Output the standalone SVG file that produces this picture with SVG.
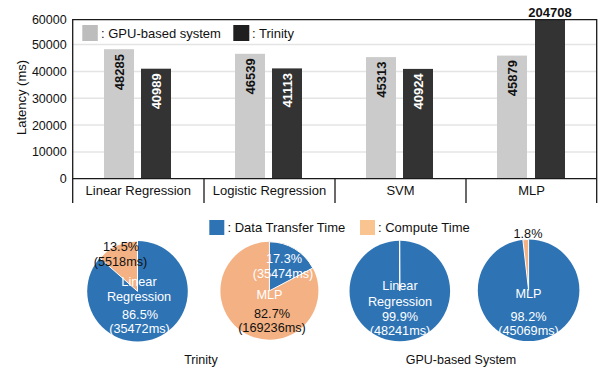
<svg xmlns="http://www.w3.org/2000/svg" width="602" height="370" viewBox="0 0 602 370">
  <defs>
    <style>
      text { font-family: "Liberation Sans", Arial, Helvetica, sans-serif; fill: #111; }
      .tick { font-size: 12.5px; text-anchor: end; }
      .cat { font-size: 13px; text-anchor: middle; }
      .leg { font-size: 13px; }
      .val { font-size: 13px; font-weight: bold; text-anchor: end; }
      .val-light { fill: #fff; }
      .pl { font-size: 12.7px; text-anchor: middle; }
      .pl-w { fill: #fff; }
      .title { font-size: 12.5px; text-anchor: middle; }
      .grid { stroke: #e4e4e4; stroke-width: 1.5; }
      .frame { stroke: #1a1a1a; stroke-width: 1.3; fill: none; }
      .gpu { fill: #cbcbcb; }
      .trin { fill: #333333; }
      .blue { fill: #2e74b5; }
      .orange { fill: #f4b183; }
      .slice { stroke: #fff; stroke-width: 1; }
    </style>
  </defs>
  <rect width="602" height="370" fill="#fff"/>

  <!-- bar chart: grid and axes -->
  <g id="bar-grid">
    <line class="grid" x1="72.7" y1="44.6" x2="596.7" y2="44.6"/>
    <line class="grid" x1="72.7" y1="71.4" x2="596.7" y2="71.4"/>
    <line class="grid" x1="72.7" y1="98.2" x2="596.7" y2="98.2"/>
    <line class="grid" x1="72.7" y1="125" x2="596.7" y2="125"/>
    <line class="grid" x1="72.7" y1="151.9" x2="596.7" y2="151.9"/>
  </g>
  <g id="y-axis">
    <text class="tick" x="66.7" y="24">60000</text>
    <text class="tick" x="66.7" y="49">50000</text>
    <text class="tick" x="66.7" y="75.5">40000</text>
    <text class="tick" x="66.7" y="102.5">30000</text>
    <text class="tick" x="66.7" y="129.5">20000</text>
    <text class="tick" x="66.7" y="156">10000</text>
    <text class="tick" x="66.7" y="182.5">0</text>
    <text class="leg" transform="translate(26 97.5) rotate(-90)" text-anchor="middle">Latency (ms)</text>
  </g>

  <!-- legend for bars -->
  <g id="bar-legend">
    <rect x="82.3" y="25" width="15.5" height="16" fill="#bdbdbd"/>
    <text class="leg" x="101" y="37.5">: GPU-based system</text>
    <rect x="233.3" y="25" width="16" height="16" fill="#1f1f1f"/>
    <text class="leg" x="252" y="37.5">: Trinity</text>
  </g>

  <!-- bars -->
  <g id="bars-linear-regression">
    <rect class="gpu" x="104" y="49.2" width="30" height="129.5"/>
    <rect class="trin" x="141" y="68.7" width="30" height="110"/>
    <text class="val" transform="translate(123.6 54) rotate(-90)">48285</text>
    <text class="val val-light" transform="translate(160.6 73.2) rotate(-90)">40989</text>
  </g>
  <g id="bars-logistic-regression">
    <rect class="gpu" x="235" y="53.8" width="30" height="124.9"/>
    <rect class="trin" x="272" y="68.4" width="30" height="110.3"/>
    <text class="val" transform="translate(254.6 58.3) rotate(-90)">46539</text>
    <text class="val val-light" transform="translate(291.6 72.9) rotate(-90)">41113</text>
  </g>
  <g id="bars-svm">
    <rect class="gpu" x="366" y="57.1" width="30" height="121.6"/>
    <rect class="trin" x="403" y="68.9" width="30" height="109.8"/>
    <text class="val" transform="translate(385.6 61.6) rotate(-90)">45313</text>
    <text class="val val-light" transform="translate(422.6 73.4) rotate(-90)">40924</text>
  </g>
  <g id="bars-mlp">
    <rect class="gpu" x="497" y="55.6" width="30" height="123.1"/>
    <rect class="trin" x="535" y="19.7" width="30" height="159"/>
    <text class="val" transform="translate(516.6 60.1) rotate(-90)">45879</text>
    <text class="val" x="550" y="16.5" style="text-anchor:middle">204708</text>
  </g>

  <!-- frame and category dividers -->
  <g id="frame">
    <polyline class="frame" points="72.7,203 72.7,19.7 596.7,19.7 596.7,203"/>
    <line class="frame" x1="72.7" y1="178.7" x2="596.7" y2="178.7"/>
    <line class="frame" x1="204" y1="178.7" x2="204" y2="203"/>
    <line class="frame" x1="335" y1="178.7" x2="335" y2="203"/>
    <line class="frame" x1="466" y1="178.7" x2="466" y2="203"/>
  </g>
  <g id="categories">
    <text class="cat" x="138.3" y="195">Linear Regression</text>
    <text class="cat" x="269.5" y="195">Logistic Regression</text>
    <text class="cat" x="400.5" y="195">SVM</text>
    <text class="cat" x="531.5" y="195">MLP</text>
  </g>

  <!-- pie legend -->
  <g id="pie-legend">
    <rect class="blue" x="209.3" y="220" width="15" height="15"/>
    <text class="leg" x="227.5" y="232">: Data Transfer Time</text>
    <rect x="360" y="220" width="15" height="15" fill="#f9c490"/>
    <text class="leg" x="378" y="232">: Compute Time</text>
  </g>

  <!-- Trinity: linear regression -->
  <g id="pie-trinity-lr">
    <circle class="blue" cx="137.5" cy="291.3" r="50.3"/>
    <path class="orange slice" d="M137.5,291.3 L137.5,241 A50.3,50.3 0 0 0 99.77,258.04 Z"/>
    <text class="pl" x="121" y="251">13.5%</text>
    <text class="pl" x="120.5" y="266">(5518ms)</text>
    <text class="pl pl-w" x="139" y="285.5">Linear</text>
    <text class="pl pl-w" x="139" y="301">Regression</text>
    <text class="pl pl-w" x="140" y="319">86.5%</text>
    <text class="pl pl-w" x="139.5" y="333">(35472ms)</text>
  </g>

  <!-- Trinity: MLP -->
  <g id="pie-trinity-mlp">
    <circle class="orange" cx="269.4" cy="290.8" r="49"/>
    <path class="blue slice" d="M269.4,290.8 L269.4,241.8 A49,49 0 0 1 312.78,268.01 Z"/>
    <text class="pl pl-w" x="284" y="262.5">17.3%</text>
    <text class="pl pl-w" x="283" y="277.5">(35474ms)</text>
    <text class="pl pl-w" x="269.5" y="298.5">MLP</text>
    <text class="pl" x="272" y="318">82.7%</text>
    <text class="pl" x="272" y="332">(169236ms)</text>
  </g>

  <!-- GPU-based: linear regression -->
  <g id="pie-gpu-lr">
    <circle class="blue" cx="399.8" cy="291" r="50.3"/>
    <path class="orange slice" d="M399.8,291 L399.8,240.7 A50.3,50.3 0 0 0 399.48,240.7 Z"/>
    <text class="pl pl-w" x="400" y="290">Linear</text>
    <text class="pl pl-w" x="400" y="305.5">Regression</text>
    <text class="pl pl-w" x="400" y="321">99.9%</text>
    <text class="pl pl-w" x="400" y="335">(48241ms)</text>
  </g>

  <!-- GPU-based: MLP -->
  <g id="pie-gpu-mlp">
    <circle class="blue" cx="528.6" cy="290.3" r="50.8"/>
    <path class="orange slice" d="M528.6,290.3 L528.6,239.5 A50.8,50.8 0 0 0 522.87,239.83 Z"/>
    <text class="pl" x="528" y="238">1.8%</text>
    <text class="pl pl-w" x="528.5" y="298">MLP</text>
    <text class="pl pl-w" x="528.5" y="320.5">98.2%</text>
    <text class="pl pl-w" x="528.5" y="334.5">(45069ms)</text>
  </g>

  <g id="pie-titles">
    <text class="title" x="201" y="363.5">Trinity</text>
    <text class="title" x="461" y="363.5">GPU-based System</text>
  </g>
</svg>
